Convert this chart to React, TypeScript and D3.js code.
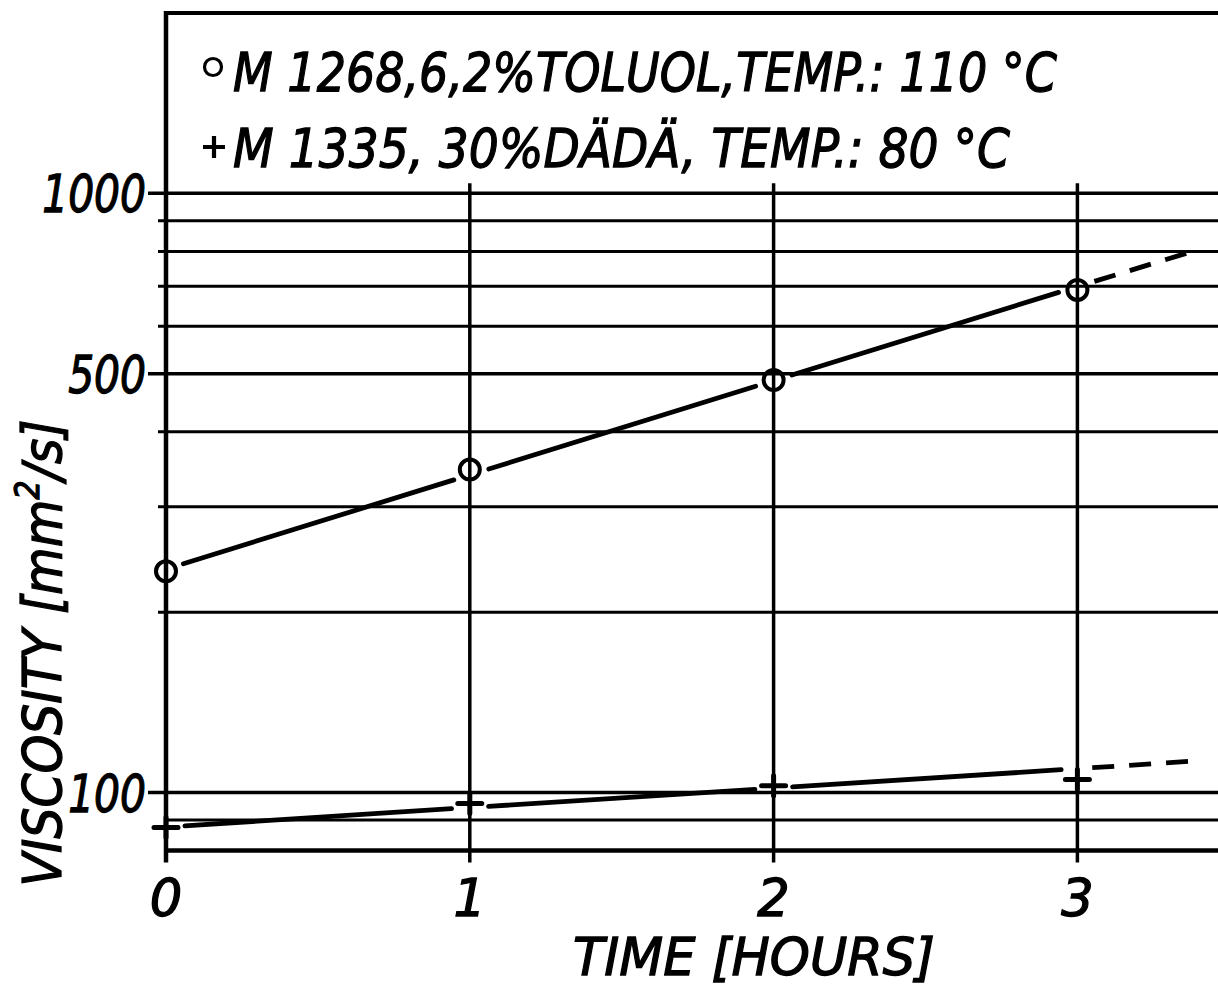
import React from 'react';
import * as d3 from 'd3';

// ---------- data ----------
const times = [0, 1, 2, 3];
const toluolViscosity = [234, 346, 488, 690];
const daedaeViscosity = [87.4, 95.9, 102.6, 105.1];

const fitTimes = [0, 3];
const toluolFit = [236, 699];
const daedaeFit = [87.6, 109.6];

const extTimes = [3, 3.4];
const toluolExt = [699, 806];
const daedaeExt = [109.6, 113];

const xTicks = [0, 1, 2, 3];
const yLabelTicks = [100, 500, 1000];
const yGridValues = [90, 100, 200, 300, 400, 500, 600, 700, 800, 900, 1000];

const legendLabels = ['M 1268,6,2%TOLUOL,TEMP.: 110 °C', 'M 1335, 30%DÄDÄ, TEMP.: 80 °C'];
const xTitle = 'TIME [HOURS]';
const yTitleMain = 'VISCOSITY [mm';
const yTitleSup = '2';
const yTitleEnd = '/s]';

// ---------- layout ----------
const W = 1218;
const H = 989;
const X0 = 166;
const PX_PER_HOUR = 303.8;
const FONT = '"DejaVu Sans", "Liberation Sans", sans-serif';
const TEXT_STROKE = 1.3;

const x = d3.scaleLinear().domain([0, 3.5]).range([X0, X0 + 3.5 * PX_PER_HOUR]);
const y = d3.scaleLog().domain([80, 2000]).range([850.6, 13]);

type Pt = [number, number];

function gappedSegments(p0: Pt, p1: Pt, markers: Pt[], g: number): [Pt, Pt][] {
  const dx = p1[0] - p0[0];
  const dy = p1[1] - p0[1];
  const L2 = dx * dx + dy * dy;
  const L = Math.sqrt(L2);
  const cuts: [number, number][] = [];
  markers.forEach((m) => {
    const u = ((m[0] - p0[0]) * dx + (m[1] - p0[1]) * dy) / L2;
    const d = Math.abs((m[0] - p0[0]) * dy - (m[1] - p0[1]) * dx) / L;
    if (d < g) {
      const half = Math.sqrt(g * g - d * d) / L;
      cuts.push([u - half, u + half]);
    }
  });
  cuts.sort((a, b) => a[0] - b[0]);
  const ranges: [number, number][] = [];
  let start = 0;
  cuts.forEach(([a, b]) => {
    const e = Math.min(a, 1);
    if (e > start) ranges.push([start, e]);
    start = Math.max(start, b);
  });
  if (start < 1) ranges.push([start, 1]);
  return ranges.map(([a, b]) => [
    [p0[0] + dx * a, p0[1] + dy * a],
    [p0[0] + dx * b, p0[1] + dy * b],
  ]);
}

const lineGen = d3.line<Pt>().x((d) => d[0]).y((d) => d[1]);

function FitLine({ fit, ext, pts, g }: { fit: number[]; ext: number[]; pts: Pt[]; g: number }) {
  const solid = gappedSegments([x(fitTimes[0]), y(fit[0])], [x(fitTimes[1]), y(fit[1])], pts, g);
  const dashed = gappedSegments([x(extTimes[0]), y(ext[0])], [x(extTimes[1]), y(ext[1])], pts, g);
  return (
    <g fill="none" stroke="#000" strokeWidth={4.8} strokeLinecap="round">
      {solid.map((s, i) => (
        <path key={'s' + i} d={lineGen(s) || ''} />
      ))}
      {dashed.map((s, i) => (
        <path key={'d' + i} d={lineGen(s) || ''} strokeDasharray="22 15" strokeLinecap="butt" />
      ))}
    </g>
  );
}

export default function App() {
  const circlePts: Pt[] = times.map((t, i) => [x(t), y(toluolViscosity[i])]);
  const crossPts: Pt[] = times.map((t, i) => [x(t), y(daedaeViscosity[i])]);
  const top = y(2000);
  const bottom = y(80);
  const tickBottom = bottom + 12;

  return (
    <svg
      width={W}
      height={H}
      viewBox={`0 0 ${W} ${H}`}
      style={{ position: 'absolute', left: 0, top: 0, background: '#fff', overflow: 'hidden' }}
    >
      <rect x={0} y={0} width={W} height={H} fill="#fff" />

      {/* horizontal grid */}
      <g stroke="#000" strokeWidth={3}>
        {yGridValues.map((v) => {
          const major = yLabelTicks.includes(v);
          const x1 = major ? X0 - 18 : v === 90 ? X0 : X0 - 8;
          return <line key={v} x1={x1} x2={W} y1={y(v)} y2={y(v)} strokeWidth={major ? 3.5 : 3} />;
        })}
      </g>

      {/* vertical grid */}
      <g stroke="#000" strokeWidth={3.5}>
        {xTicks
          .filter((t) => t > 0)
          .map((t) => (
            <line key={t} x1={x(t)} x2={x(t)} y1={y(1000) - 10} y2={tickBottom} />
          ))}
      </g>

      {/* frame */}
      <g stroke="#000" fill="none">
        <line x1={X0 - 2} x2={W} y1={top} y2={top} strokeWidth={4} />
        <line x1={X0} x2={W} y1={bottom} y2={bottom} strokeWidth={4.5} />
        <line x1={X0} x2={X0} y1={top - 2} y2={tickBottom} strokeWidth={4.5} />
      </g>

      {/* fit lines */}
      <FitLine fit={toluolFit} ext={toluolExt} pts={circlePts} g={19} />
      <FitLine fit={daedaeFit} ext={daedaeExt} pts={crossPts} g={19} />

      {/* markers */}
      <g fill="none" stroke="#000" strokeWidth={4}>
        {circlePts.map((p, i) => (
          <circle key={i} cx={p[0]} cy={p[1]} r={10} />
        ))}
      </g>
      <g fill="none" stroke="#000" strokeWidth={5} strokeLinecap="round">
        {crossPts.map((p, i) => (
          <path key={i} d={`M${p[0] - 12},${p[1]}H${p[0] + 12}M${p[0]},${p[1] - 10}V${p[1] + 10}`} />
        ))}
      </g>

      {/* legend */}
      <circle cx={213} cy={67} r={8.5} fill="none" stroke="#000" strokeWidth={3.2} />
      <path d="M203,147H225M214,136V158" stroke="#000" strokeWidth={4.2} fill="none" />
      <g fontFamily={FONT} fontStyle="italic" fontSize={53} fill="#000" stroke="#000" strokeWidth={TEXT_STROKE}>
        <text x={233} y={91} textLength={824} lengthAdjust="spacingAndGlyphs">
          {legendLabels[0]}
        </text>
        <text x={233} y={167} textLength={777} lengthAdjust="spacingAndGlyphs">
          {legendLabels[1]}
        </text>
      </g>

      {/* y tick labels */}
      <g fontFamily={FONT} fontStyle="italic" fontSize={51} fill="#000" stroke="#000" strokeWidth={TEXT_STROKE} textAnchor="end">
        {yLabelTicks.map((v) => (
          <text key={v} transform={`translate(146,${y(v) + 19}) scale(0.8,1)`}>
            {String(v)}
          </text>
        ))}
      </g>

      {/* x tick labels */}
      <g fontFamily={FONT} fontStyle="italic" fontSize={51} fill="#000" stroke="#000" strokeWidth={TEXT_STROKE} textAnchor="middle">
        {xTicks.map((t) => (
          <text key={t} x={x(t)} y={916}>
            {String(t)}
          </text>
        ))}
      </g>

      {/* axis titles */}
      <text
        x={754}
        y={975}
        fontFamily={FONT}
        fontStyle="italic"
        fontSize={52}
        textAnchor="middle"
        textLength={362}
        lengthAdjust="spacingAndGlyphs"
        stroke="#000"
        strokeWidth={TEXT_STROKE}
      >
        {xTitle}
      </text>
      <text
        transform="translate(61,653) rotate(-90)"
        fontFamily={FONT}
        fontStyle="italic"
        fontSize={54}
        textAnchor="middle"
        textLength={467}
        lengthAdjust="spacingAndGlyphs"
        stroke="#000"
        strokeWidth={TEXT_STROKE}
      >
        {yTitleMain}
        <tspan dy={-22} fontSize={33}>
          {yTitleSup}
        </tspan>
        <tspan dy={22}>{yTitleEnd}</tspan>
      </text>
    </svg>
  );
}
